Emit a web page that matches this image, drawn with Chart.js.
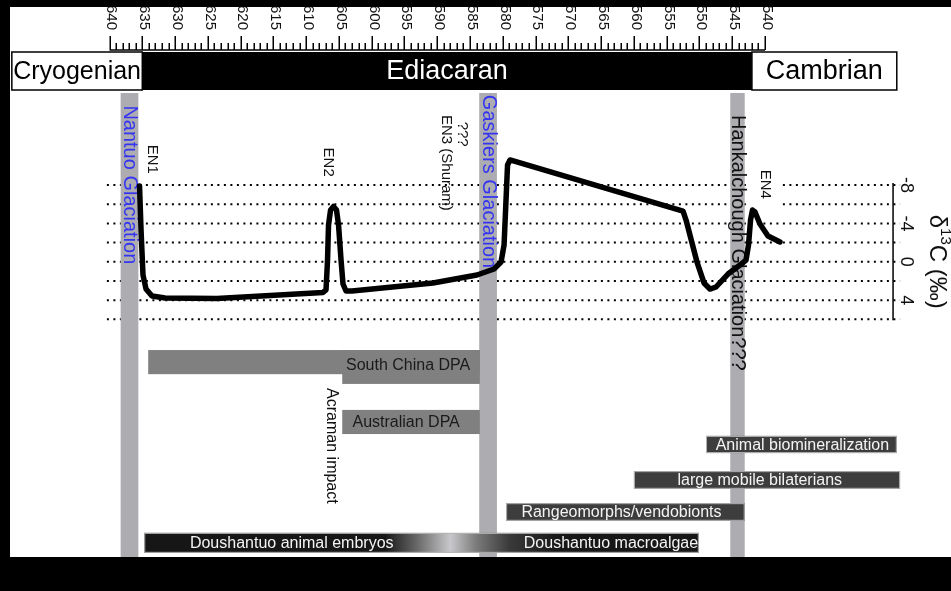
<!DOCTYPE html>
<html>
<head>
<meta charset="utf-8">
<title>Ediacaran timeline</title>
<script src="https://cdn.jsdelivr.net/npm/chart.js@4.4.1/dist/chart.umd.min.js"></script>
<style>
  html, body { margin: 0; padding: 0; background: #000; }
  #wrap { position: absolute; left: 10px; top: 7px; width: 941px; height: 550px; background: #fff; }
</style>
</head>
<body>
<div id="wrap"><canvas id="chart" width="941" height="550"></canvas></div>
<script>
const FONT = "'Liberation Sans', Arial, Helvetica, sans-serif";

// age axis (Ma), drawn on top
const ageTickValues = [640, 635, 630, 625, 620, 615, 610, 605, 600, 595, 590, 585, 580, 575, 570, 565, 560, 555, 550, 545, 540];
const ageTickLabels = ["640", "635", "630", "625", "620", "615", "610", "605", "600", "595", "590", "585", "580", "575", "570", "565", "560", "555", "550", "545", "540"];

// periods
const periodNames = ["Cryogenian", "Ediacaran", "Cambrian"];
const periodStart = [654.9, 635, 542];
const periodEnd = [635, 542, 519.9];

// glaciations
const glacNames = ["Nantuo Glaciation", "Gaskiers Glaciation", "Hankalchough Glaciation???"];
const glacStart = [638.3, 583.6, 545.3];
const glacEnd = [635.6, 580.9, 543.1];

// carbon isotope curve
const curveAge = [635.42, 635.19, 634.89, 634.43, 633.52, 631.53, 623.60, 607.43, 606.97, 606.74, 606.59, 606.28, 605.83, 605.37, 605.06, 604.68, 604.38, 603.92, 603.01, 590.65, 583.94, 581.34, 580.27, 579.81, 579.51, 579.28, 578.90, 552.51, 552.05, 550.38, 549.31, 548.40, 547.48, 545.65, 543.82, 542.90, 542.52, 542.21, 541.91, 541.53, 540.77, 539.55, 537.72];
const curveD13C = [-7.9, -3.31, 1.38, 2.84, 3.57, 3.78, 3.83, 3.2, 2.94, -0.18, -3.83, -5.39, -5.76, -5.39, -3.83, -0.18, 2.32, 3.05, 3.05, 2.21, 1.38, 0.75, 0.03, -1.75, -6.44, -10.08, -10.61, -5.29, -4.35, 0.03, 2.21, 2.84, 2.63, 1.28, 0.34, -0.18, -1.75, -4.35, -5.39, -5.19, -3.94, -2.68, -2.06];

// δ13C reference levels
const d13cLevels = [-8, -6, -4, -2, 0, 2, 4, 6];
const levelFrom = 640.4;
const levelTo = 519.4;
const d13cTickValues = [-8, -4, 0, 4];
const d13cTickLabels = ["-8", "-4", "0", "4"];

// excursion labels (rotated)
const noteTexts = ["EN1", "EN2", "EN3 (Shuram)", "???", "EN4"];
const noteAge = [633.55, 606.6, 588.7, 586.2, 540.0];
const noteTop = [-12.2, -11.9, -15.3, -14.6, -9.6];

// range bars (age span, lane span)
const rangeStart = [634.1, 604.5, 604.5, 549.0, 560.0, 579.5, 634.7];
const rangeEnd = [583.5, 583.5, 583.5, 519.9, 519.4, 543.1, 550.1];
const rangeTop = [55.4, 55.4, 68.3, 73.9, 81.5, 88.4, 94.8];
const rangeBottom = [60.6, 62.7, 73.5, 77.6, 85.3, 92.2, 99.1];
const rangeKind = ["dpa", "dpa", "dpa", "dark", "dark", "dark", "embryo"];

// range bar labels
const rangeLabels = ["South China DPA", "Australian DPA", "Animal biomineralization", "large mobile bilaterians", "Rangeomorphs/vendobionts", "Doushantuo animal embryos", "Doushantuo macroalgae"];
const rangeLabelAge = [594.45, 594.75, 534.3, 540.8, 561.9, 612.2, 563.5];
const rangeLabelLane = [58.6, 70.9, 75.75, 83.4, 90.3, 96.98, 96.98];
const rangeLabelKind = ["dpa", "dpa", "dark", "dark", "dark", "dark", "dark"];

// Acraman impact
const impactAge = 606.1;
const impactTop = 63.6;

const BAND = '#acacb1';
const BLUE = '#3434f2';
const embryoStops = [[598, '#161616'], [593, '#6a6a6a'], [588, '#c8c8cc'], [584, '#7a7a7a'], [579, '#3a3a3a'], [572, '#181818']];

function vText(ctx, text, x, y, size, color, align) {
  ctx.save();
  ctx.translate(x, y);
  ctx.rotate(Math.PI / 2);
  ctx.font = size + 'px ' + FONT;
  ctx.fillStyle = color;
  ctx.textAlign = align || 'left';
  ctx.textBaseline = 'middle';
  ctx.fillText(text, 0, 0);
  ctx.restore();
}

const figurePlugin = {
  id: 'figure',
  beforeDatasetDraw(chart, args) {
    if (args.index !== 0) return;
    const ctx = chart.ctx, xs = chart.scales.x, ys = chart.scales.y, area = chart.chartArea;
    // white patch behind EN4
    ctx.save();
    ctx.font = '15px ' + FONT;
    const w = ctx.measureText(noteTexts[4]).width;
    const ex = xs.getPixelForValue(noteAge[4]), ey = ys.getPixelForValue(noteTop[4]);
    ctx.fillStyle = '#fff';
    ctx.fillRect(ex - 15, ey - 8, 30, w + 16);
    // glaciation bands
    ctx.fillStyle = BAND;
    for (let i = 0; i < glacNames.length; i++) {
      const x0 = xs.getPixelForValue(glacStart[i]), x1 = xs.getPixelForValue(glacEnd[i]);
      ctx.fillRect(x0, area.top, x1 - x0, area.bottom - area.top);
    }
    ctx.restore();
    const glacTop = [-16.3, -17.4, -15.3];
    for (let i = 0; i < glacNames.length; i++) {
      const xc = xs.getPixelForValue((glacStart[i] + glacEnd[i]) / 2);
      vText(ctx, glacNames[i], xc, ys.getPixelForValue(glacTop[i]), 20, i < 2 ? BLUE : '#111');
    }
  },
  afterDatasetsDraw(chart) {
    const ctx = chart.ctx, xs = chart.scales.x, ys = chart.scales.y, ls = chart.scales.lane;
    // excursion notes
    for (let i = 0; i < noteTexts.length; i++) {
      vText(ctx, noteTexts[i], xs.getPixelForValue(noteAge[i]), ys.getPixelForValue(noteTop[i]), 15, '#111');
    }
    vText(ctx, 'Acraman impact', xs.getPixelForValue(impactAge), ls.getPixelForValue(impactTop), 16, '#111');

    // range bars
    ctx.save();
    for (let i = 0; i < rangeStart.length; i++) {
      const x0 = xs.getPixelForValue(rangeStart[i]), x1 = xs.getPixelForValue(rangeEnd[i]);
      const y0 = ls.getPixelForValue(rangeTop[i]), y1 = ls.getPixelForValue(rangeBottom[i]);
      if (rangeKind[i] === 'dpa') {
        ctx.fillStyle = '#808080';
        ctx.fillRect(x0, y0, x1 - x0, y1 - y0);
      } else {
        if (rangeKind[i] === 'embryo') {
          const g = ctx.createLinearGradient(x0, 0, x1, 0);
          g.addColorStop(0, '#161616');
          embryoStops.forEach(s => g.addColorStop((xs.getPixelForValue(s[0]) - x0) / (x1 - x0), s[1]));
          g.addColorStop(1, '#161616');
          ctx.fillStyle = g;
        } else {
          ctx.fillStyle = '#3d3d3d';
        }
        ctx.fillRect(x0, y0, x1 - x0, y1 - y0);
        ctx.strokeStyle = '#b4b4b4';
        ctx.lineWidth = 1;
        ctx.strokeRect(x0 + 0.5, y0 + 0.5, x1 - x0 - 1, y1 - y0 - 1);
      }
    }
    ctx.font = '16px ' + FONT;
    ctx.textAlign = 'center';
    ctx.textBaseline = 'middle';
    for (let i = 0; i < rangeLabels.length; i++) {
      ctx.fillStyle = rangeLabelKind[i] === 'dpa' ? '#1a1a1a' : '#f4f4f4';
      ctx.fillText(rangeLabels[i], xs.getPixelForValue(rangeLabelAge[i]), ls.getPixelForValue(rangeLabelLane[i]) + 1);
    }
    ctx.restore();

    // right δ13C axis
    const ax = xs.getPixelForValue(520.47);
    ctx.save();
    ctx.strokeStyle = '#000';
    ctx.lineWidth = 1.5;
    ctx.beginPath();
    ctx.moveTo(ax, ys.getPixelForValue(-8.2));
    ctx.lineTo(ax, ys.getPixelForValue(6.1));
    ctx.stroke();
    ctx.restore();
    for (let i = 0; i < d13cTickValues.length; i++) {
      vText(ctx, d13cTickLabels[i], ax + 13, ys.getPixelForValue(d13cTickValues[i]), 18, '#111', 'center');
    }
    // title δ13C (‰)
    ctx.save();
    ctx.translate(ax + 44, ys.getPixelForValue(0));
    ctx.rotate(Math.PI / 2);
    ctx.fillStyle = '#111';
    ctx.textBaseline = 'middle';
    ctx.textAlign = 'left';
    ctx.font = '24px ' + FONT;
    const wA = ctx.measureText('δ').width, wC = ctx.measureText('C (‰)').width;
    ctx.font = '15px ' + FONT;
    const wB = ctx.measureText('13').width;
    let tx = -(wA + wB + wC) / 2;
    ctx.font = '24px ' + FONT;
    ctx.fillText('δ', tx, 0);
    tx += wA;
    ctx.font = '15px ' + FONT;
    ctx.fillText('13', tx, -8);
    tx += wB;
    ctx.font = '24px ' + FONT;
    ctx.fillText('C (‰)', tx, 0);
    ctx.restore();
  },
  afterDraw(chart) {
    const ctx = chart.ctx, xs = chart.scales.x, top = chart.chartArea.top;
    // age axis
    const axisY = top - 43;
    ctx.save();
    ctx.strokeStyle = '#000';
    ctx.lineWidth = 1.5;
    ctx.beginPath();
    ctx.moveTo(xs.getPixelForValue(640), axisY);
    ctx.lineTo(xs.getPixelForValue(540), axisY);
    for (let a = 540; a <= 640; a++) {
      const x = Math.round(xs.getPixelForValue(a)) + 0.25;
      ctx.moveTo(x, axisY);
      ctx.lineTo(x, axisY - (a % 5 === 0 ? 14 : 7));
    }
    ctx.stroke();
    ctx.restore();
    for (let i = 0; i < ageTickValues.length; i++) {
      vText(ctx, ageTickLabels[i], xs.getPixelForValue(ageTickValues[i]) + 2, axisY - 20, 15, '#111', 'right');
    }
    // period bar
    const y0 = top - 41, h = 38;
    const periodFont = [25, 27, 27];
    ctx.save();
    for (let i = 0; i < periodNames.length; i++) {
      const x0 = xs.getPixelForValue(periodStart[i]), x1 = xs.getPixelForValue(periodEnd[i]);
      const dark = i === 1;
      ctx.fillStyle = dark ? '#000' : '#fff';
      ctx.fillRect(x0, y0, x1 - x0, h);
      if (!dark) {
        ctx.strokeStyle = '#000';
        ctx.lineWidth = 1.5;
        ctx.strokeRect(x0, y0, x1 - x0, h);
      }
      ctx.fillStyle = dark ? '#fff' : '#000';
      ctx.font = periodFont[i] + 'px ' + FONT;
      ctx.textAlign = 'center';
      ctx.textBaseline = 'middle';
      ctx.fillText(periodNames[i], (x0 + x1) / 2, y0 + h / 2 + 1);
    }
    ctx.restore();
  }
};

const datasets = [{
  data: curveAge.map((a, i) => ({ x: a, y: curveD13C[i] })),
  showLine: true,
  borderColor: '#000',
  borderWidth: 5.5,
  borderJoinStyle: 'round',
  borderCapStyle: 'round',
  pointRadius: 0,
  tension: 0
}];
d13cLevels.forEach(v => datasets.push({
  data: [{ x: levelFrom, y: v }, { x: levelTo, y: v }],
  showLine: true,
  borderColor: '#000',
  borderWidth: 2,
  borderDash: [2, 4.5],
  pointRadius: 0
}));

new Chart(document.getElementById('chart'), {
  type: 'scatter',
  data: { datasets: datasets },
  options: {
    responsive: false,
    devicePixelRatio: 1,
    animation: false,
    layout: { padding: { top: 86, left: 0, right: 0, bottom: 0 } },
    plugins: { legend: { display: false }, tooltip: { enabled: false } },
    scales: {
      x: { type: 'linear', reverse: true, min: 511.63, max: 655.18, display: false },
      y: { type: 'linear', reverse: true, min: -17.59, max: 30.77, display: false },
      lane: { type: 'linear', axis: 'y', reverse: true, min: 0, max: 100, display: false }
    }
  },
  plugins: [figurePlugin]
});
</script>
</body>
</html>
